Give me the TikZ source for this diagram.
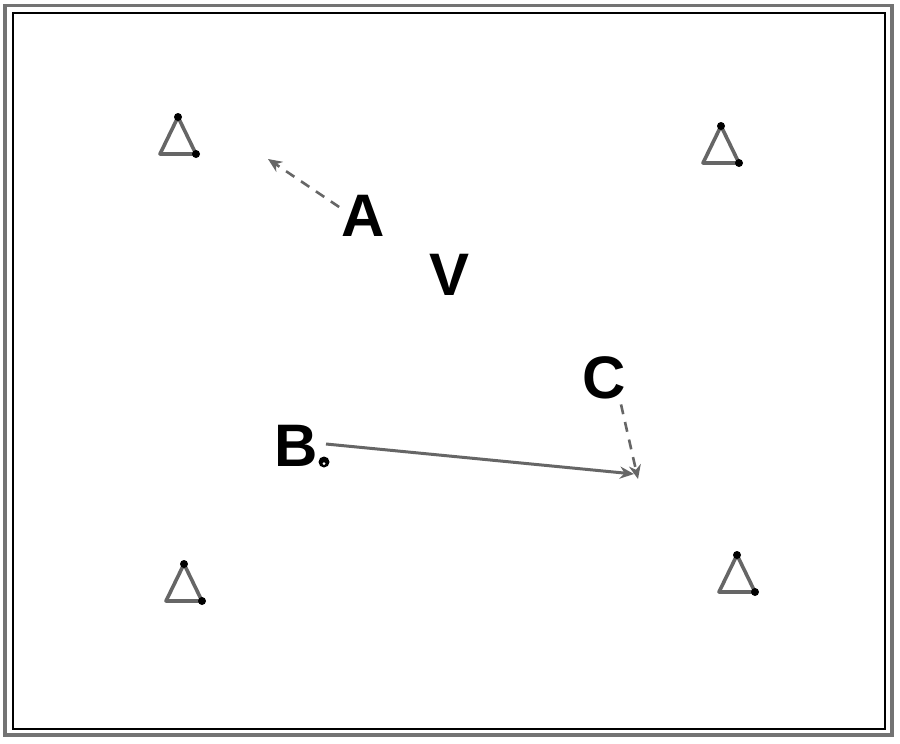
\documentclass[tikz,border=0pt]{standalone}
\usepackage{fontspec}
\setmainfont{Liberation Sans}
\usetikzlibrary{arrows.meta}
\tikzset{
    letter/.style={font=\fontsize{60}{60}\selectfont\bfseries, inner sep=0pt},
    cone/.style={draw=black!60, line width=3.6pt, line join=round},
    run/.style={draw=black!60, line width=3pt, -{Stealth[length=14pt,width=12pt]}},
    pass/.style={draw=black!60, line width=2.6pt, dashed, dash pattern=on 10pt off 8pt, -{Stealth[length=14pt,width=12pt]}}
}
\begin{document}
\begin{tikzpicture}[x=1pt,y=-1pt]
        \useasboundingbox (0,0) rectangle (900,744);
        \fill[white] (0,0) rectangle (900,744);
        % field border
        \draw[black!55, line width=3.5pt] (5,5.5) rectangle (892,735);
        \draw[black, line width=1.2pt] (13,13) rectangle (885,729);
        % cones
        \foreach \x/\y in {178/117, 721/126, 184/564, 737/555} {
            \draw[cone] (\x,\y) -- ++(18,37) -- ++(-36,0) -- cycle;
            \fill (\x,\y) circle (4pt);
            \fill (\x+18,\y+37) circle (4pt);
        }
        % players
        \node[letter] (A) at (363,216) {A};
        \node[letter] (V) at (450,275) {V};
        \node[letter] (C) at (604,378) {C};
        \node[letter] (B) at (296,446) {B};
        \fill (324,462) circle (5.5pt);
        \fill[white] (324,463.5) circle (1.5pt);
        \coordinate (ball) at (326,444);
        \coordinate (aend) at (268,159);
        \coordinate (cend) at (634,474);
        \coordinate (cgo) at (638,479);
        % runs and passes
        \draw[pass] (A.west) ++(-2,-9) -- (aend);
        \draw[run] (ball) -- (cend);
        \draw[pass] (C.south) ++(17,5) -- (cgo);
\end{tikzpicture}
\end{document}
